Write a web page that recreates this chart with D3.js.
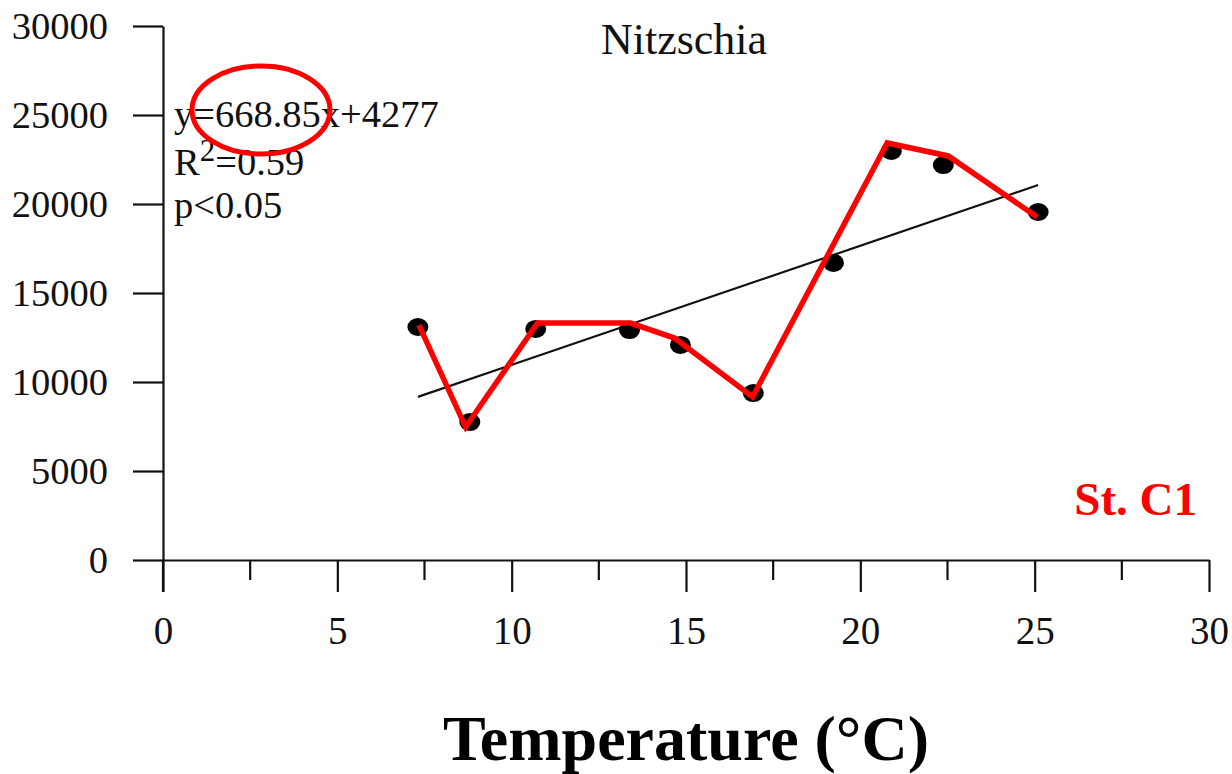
<!DOCTYPE html>
<html>
<head>
<meta charset="utf-8">
<script src="https://cdn.jsdelivr.net/npm/d3@7"></script>
<style>
  html, body { margin: 0; padding: 0; background: #fff; }
  svg text { font-family: "Liberation Serif", "Times New Roman", serif; }
</style>
</head>
<body>
<svg id="chart" width="1232" height="774"></svg>
<script>
// Nitzschia abundance versus water temperature, station C1
const temperature = [7.31, 8.80, 10.69, 13.38, 14.84, 16.93, 19.23, 20.89, 22.38, 25.10];
const abundance   = [13090, 7750, 12980, 12920, 12080, 9380, 16690, 22980, 22190, 19550];

// hand-drawn red trace over the observations
const traceX = [7.34, 8.68, 10.74, 13.41, 14.67, 16.91, 20.77, 22.52, 25.07];
const traceY = [13200, 7470, 13310, 13310, 12470, 9160, 23430, 22700, 19270];

// linear fit y = slope * x + intercept
const slope = 668.85;
const intercept = 4277;

const xTicks = [0, 5, 10, 15, 20, 25, 30];
const xMinorTicks = [2.5, 7.5, 12.5, 17.5, 22.5, 27.5];
const yTicks = [0, 5000, 10000, 15000, 20000, 25000, 30000];

const statLines = ["y=668.85x+4277", "R2=0.59", "p<0.05"];

const svg = d3.select("#chart");

const x = d3.scaleLinear().domain([0, 30]).range([163, 1209]);
const y = d3.scaleLinear().domain([0, 30000]).range([560, 26]);

const ink = "#111";

// x axis
const xAxis = svg.append("g").attr("transform", `translate(0,${y(0)})`)
  .call(d3.axisBottom(x).tickValues(xTicks).tickSize(32).tickPadding(24).tickSizeOuter(0));
xAxis.select(".domain").attr("stroke", ink).attr("stroke-width", 2.2);
xAxis.selectAll(".tick line").attr("stroke", ink).attr("stroke-width", 2.2);
xAxis.selectAll(".tick text").attr("font-size", 39).attr("fill", ink)
  .attr("font-family", "Liberation Serif, serif");

svg.append("g").selectAll("line").data(xMinorTicks).join("line")
  .attr("x1", d => x(d)).attr("x2", d => x(d))
  .attr("y1", y(0)).attr("y2", y(0) + 20)
  .attr("stroke", ink).attr("stroke-width", 2.2);

// y axis
const yAxis = svg.append("g").attr("transform", `translate(${x(0)},0)`)
  .call(d3.axisLeft(y).tickValues(yTicks).tickSize(30).tickPadding(25).tickSizeOuter(0)
    .tickFormat(d3.format("d")));
yAxis.select(".domain").attr("stroke", ink).attr("stroke-width", 2.2);
yAxis.selectAll(".tick line").attr("stroke", ink).attr("stroke-width", 2.2);
yAxis.selectAll(".tick text").attr("font-size", 38.5).attr("fill", ink)
  .attr("font-family", "Liberation Serif, serif");

// x=0 tick continues the y axis below the x axis
svg.append("line")
  .attr("x1", x(0)).attr("x2", x(0)).attr("y1", y(0)).attr("y2", y(0) + 32)
  .attr("stroke", ink).attr("stroke-width", 2.2);

// regression line across the observed temperature range
const xr = d3.extent(temperature);
svg.append("line")
  .attr("x1", x(xr[0])).attr("y1", y(slope * xr[0] + intercept))
  .attr("x2", x(xr[1])).attr("y2", y(slope * xr[1] + intercept))
  .attr("stroke", ink).attr("stroke-width", 2.2);

// observations
svg.append("g").selectAll("ellipse").data(temperature).join("ellipse")
  .attr("cx", (d, i) => x(d))
  .attr("cy", (d, i) => y(abundance[i]))
  .attr("rx", 10.5).attr("ry", 9)
  .attr("fill", "#000");

// red trace
const trace = traceX.map((d, i) => [d, traceY[i]]);
svg.append("path")
  .datum(trace)
  .attr("d", d3.line().x(d => x(d[0])).y(d => y(d[1])))
  .attr("fill", "none")
  .attr("stroke", "#ff0000")
  .attr("stroke-width", 5.5)
  .attr("stroke-linejoin", "miter");

// title
svg.append("text")
  .attr("x", 684).attr("y", 54)
  .attr("text-anchor", "middle")
  .attr("font-size", 44).attr("fill", ink)
  .text("Nitzschia");

// fit statistics
const stats = svg.append("g").attr("font-size", 38.5).attr("fill", ink);
stats.append("text").attr("x", 174).attr("y", 127).text(statLines[0]);
const r2 = stats.append("text").attr("x", 174).attr("y", 175);
r2.append("tspan").text("R");
r2.append("tspan").attr("font-size", 31).attr("dy", -14).text("2");
r2.append("tspan").attr("dy", 14).text("=0.59");
stats.append("text").attr("x", 174).attr("y", 218).text(statLines[2]);

// highlight around the slope
svg.append("ellipse")
  .attr("cx", 261).attr("cy", 110).attr("rx", 69).attr("ry", 44)
  .attr("fill", "none").attr("stroke", "#ff0000").attr("stroke-width", 5);

// station label
svg.append("text")
  .attr("x", 1197).attr("y", 515)
  .attr("text-anchor", "end")
  .attr("font-size", 47).attr("font-weight", "bold").attr("fill", "#ff0000")
  .text("St. C1");

// axis title
svg.append("text")
  .attr("x", 686).attr("y", 760)
  .attr("text-anchor", "middle")
  .attr("font-size", 64).attr("font-weight", "bold").attr("fill", "#000")
  .text("Temperature (\u00B0C)");
</script>
</body>
</html>
